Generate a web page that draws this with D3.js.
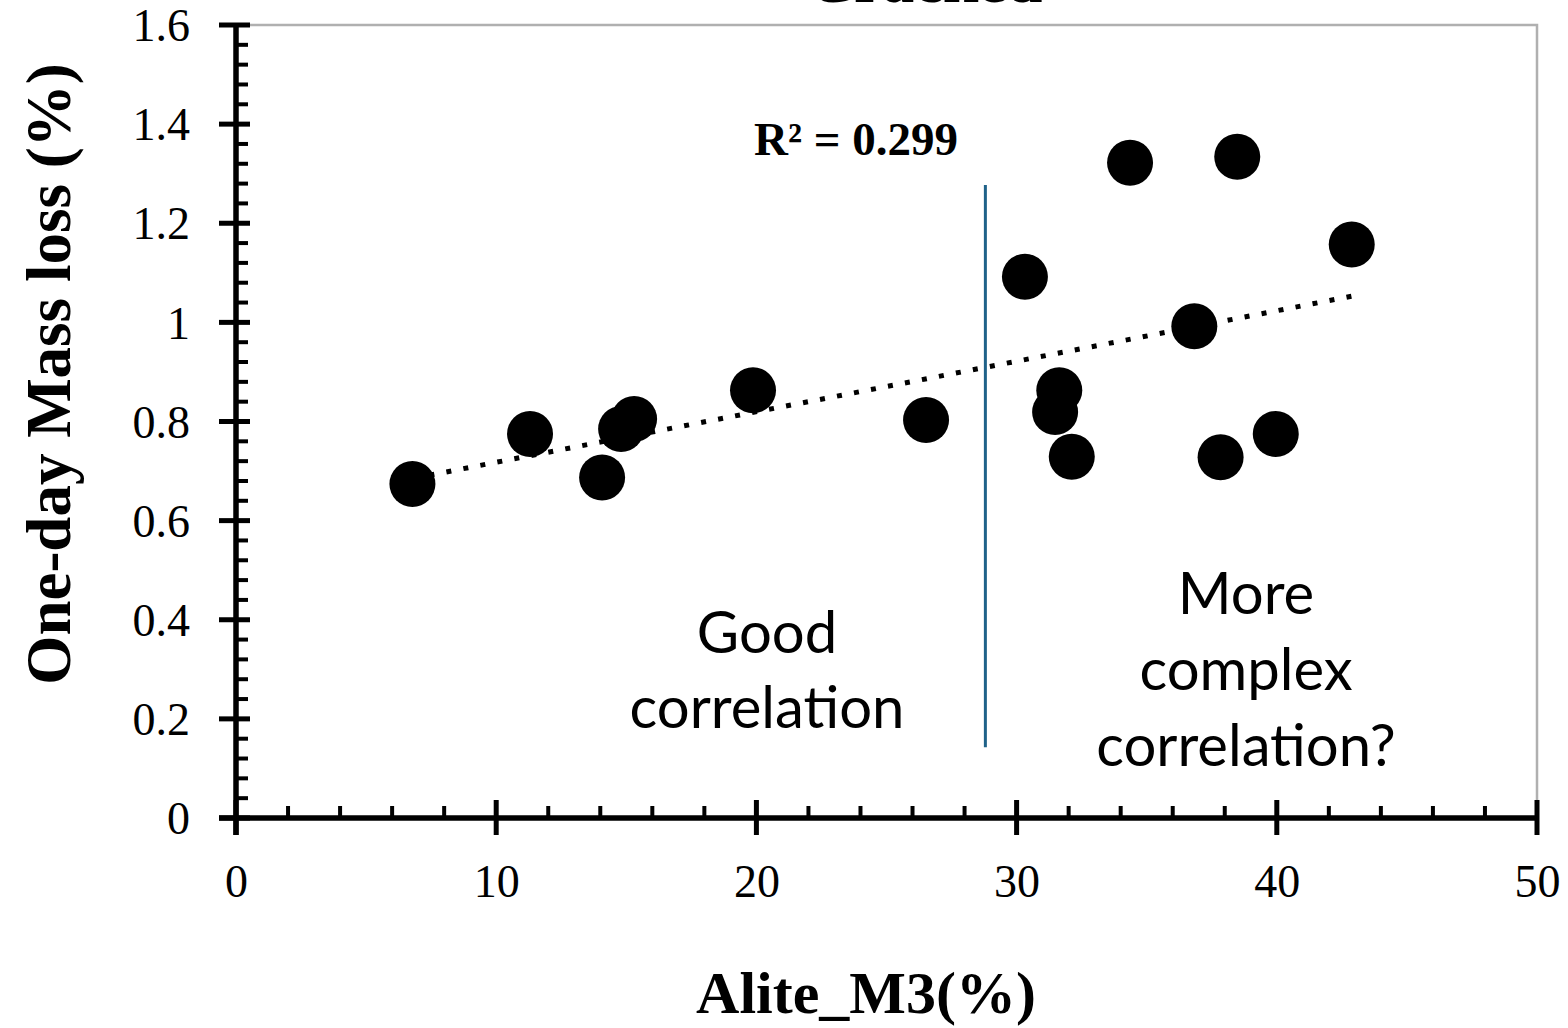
<!DOCTYPE html>
<html>
<head>
<meta charset="utf-8">
<script src="https://cdn.jsdelivr.net/npm/d3@7"></script>
<style>
  html, body { margin: 0; padding: 0; background: #fff; }
  svg { display: block; }
</style>
</head>
<body>
<svg id="chart" width="1568" height="1028"></svg>
<script>
// ---- data ----
const aliteM3 = [6.78, 11.3, 14.07, 14.8, 15.3, 19.87, 26.52, 30.32, 31.48, 31.64, 32.12, 34.36, 36.83, 37.84, 38.48, 39.96, 42.88];
const massLoss = [0.674, 0.775, 0.687, 0.785, 0.805, 0.863, 0.803, 1.092, 0.819, 0.863, 0.729, 1.322, 0.992, 0.728, 1.334, 0.775, 1.157];
const xTickValues = [0, 10, 20, 30, 40, 50];
const yTickValues = [0, 0.2, 0.4, 0.6, 0.8, 1.0, 1.2, 1.4, 1.6];
const yTickLabels = ["0", "0.2", "0.4", "0.6", "0.8", "1", "1.2", "1.4", "1.6"];
const xMinorStep = 2;
const yMinorStep = 0.04;
const dividerX = [28.8];
const dividerY = [0.143, 1.277];
const titleText = "Cracked";
const r2Label = "R\u00B2 = 0.299";
const xTitle = "Alite_M3(%)";
const yTitle = "One-day Mass loss (%)";
const leftNote = ["Good", "correlation"];
const rightNote = ["More", "complex", "correlation?"];

// ---- scales ----
const svg = d3.select("#chart");
const x = d3.scaleLinear().domain([0, 50]).range([236, 1537]);
const y = d3.scaleLinear().domain([0, 1.6]).range([818, 25]);
const serif = "'Liberation Serif', 'Times New Roman', serif";
const sans = "Lato, 'Open Sans', sans-serif";

// title (mostly cut off at the top, as in the original)
svg.append("text").attr("x", 925).attr("y", 1.5)
  .attr("text-anchor", "middle").attr("font-family", serif)
  .attr("font-weight", "bold").attr("font-size", 64).text(titleText);

// plot border (top & right)
svg.append("path")
  .attr("d", `M${x(0)},${y(1.6)}H${x(50)}V${y(0)}`)
  .attr("fill", "none").attr("stroke", "#b0b0b0").attr("stroke-width", 2.5);

// trendline (least squares)
const n = aliteM3.length;
const mx = d3.mean(aliteM3), my = d3.mean(massLoss);
let sxy = 0, sxx = 0;
for (let i = 0; i < n; i++) { sxy += (aliteM3[i]-mx)*(massLoss[i]-my); sxx += (aliteM3[i]-mx)**2; }
const slope = sxy / sxx, intercept = my - slope*mx;
const xr = d3.extent(aliteM3);
svg.append("line")
  .attr("x1", x(xr[0])).attr("y1", y(intercept + slope*xr[0]))
  .attr("x2", x(xr[1])).attr("y2", y(intercept + slope*xr[1]))
  .attr("stroke", "#000").attr("stroke-width", 5).attr("stroke-dasharray", "5 12.3");

// divider
svg.append("line")
  .attr("x1", x(dividerX[0])).attr("x2", x(dividerX[0]))
  .attr("y1", y(dividerY[0])).attr("y2", y(dividerY[1]))
  .attr("stroke", "#1f6289").attr("stroke-width", 3);

// points
svg.append("g").selectAll("circle").data(aliteM3).join("circle")
  .attr("cx", d => x(d)).attr("cy", (d, i) => y(massLoss[i])).attr("r", 23).attr("fill", "#000");

// axes
const ax = svg.append("g");
const xMinor = d3.range(0, 50 + 1e-9, xMinorStep).filter(v => Math.abs(v % 10) > 1e-6);
ax.selectAll(".xm").data(xMinor).join("line")
  .attr("x1", d => x(d)).attr("x2", d => x(d)).attr("y1", y(0)).attr("y2", y(0) - 12)
  .attr("stroke", "#000").attr("stroke-width", 4);
const yMinor = d3.range(0, 1.6 + 1e-9, yMinorStep).filter(v => Math.abs(Math.round(v/0.2)*0.2 - v) > 1e-6);
ax.selectAll(".ym").data(yMinor).join("line")
  .attr("y1", d => y(d)).attr("y2", d => y(d)).attr("x1", x(0)).attr("x2", x(0) + 12)
  .attr("stroke", "#000").attr("stroke-width", 4);
ax.selectAll(".xM").data(xTickValues).join("line")
  .attr("x1", d => x(d)).attr("x2", d => x(d)).attr("y1", y(0) - 18).attr("y2", y(0) + 17)
  .attr("stroke", "#000").attr("stroke-width", 5);
ax.selectAll(".yM").data(yTickValues).join("line")
  .attr("y1", d => y(d)).attr("y2", d => y(d)).attr("x1", x(0) - 17).attr("x2", x(0) + 14)
  .attr("stroke", "#000").attr("stroke-width", 5);
ax.append("line").attr("x1", x(0) - 17).attr("x2", x(50)).attr("y1", y(0)).attr("y2", y(0))
  .attr("stroke", "#000").attr("stroke-width", 5.5);
ax.append("line").attr("x1", x(0)).attr("x2", x(0)).attr("y1", y(1.6)).attr("y2", y(0) + 17)
  .attr("stroke", "#000").attr("stroke-width", 5.5);

// tick labels via d3 axes
const xAxis = d3.axisBottom(x).tickValues(xTickValues).tickSize(0).tickPadding(0).tickFormat(d3.format("d"));
const gx = svg.append("g").attr("transform", `translate(0,${y(0)})`).call(xAxis);
gx.select(".domain").remove();
gx.selectAll("text").attr("dy", null).attr("y", 79)
  .attr("font-family", serif).attr("font-size", 46).attr("fill", "#000");

const yAxis = d3.axisLeft(y).tickValues(yTickValues).tickSize(0).tickPadding(0)
  .tickFormat((d, i) => yTickLabels[i]);
const gy = svg.append("g").attr("transform", `translate(${x(0)},0)`).call(yAxis);
gy.select(".domain").remove();
gy.selectAll("text").attr("x", -46).attr("dy", "0.34em")
  .attr("font-family", serif).attr("font-size", 46).attr("fill", "#000");

// axis titles
svg.append("text").attr("x", 866).attr("y", 1013).attr("text-anchor", "middle")
  .attr("font-family", serif).attr("font-weight", "bold").attr("font-size", 60).text(xTitle);
svg.append("text").attr("transform", "translate(70,374) rotate(-90)").attr("text-anchor", "middle")
  .attr("font-family", serif).attr("font-weight", "bold").attr("font-size", 63).text(yTitle);

// R2 label
svg.append("text").attr("x", 856).attr("y", 155).attr("text-anchor", "middle")
  .attr("font-family", serif).attr("font-weight", "bold").attr("font-size", 47).text(r2Label);

// notes
const leftBase = [653, 728];
svg.append("g").selectAll("text").data(leftNote).join("text")
  .attr("x", 767).attr("y", (d, i) => leftBase[i]).attr("text-anchor", "middle")
  .attr("font-family", sans).attr("font-size", 58).text(d => d);
const rightBase = [614, 690, 766];
svg.append("g").selectAll("text").data(rightNote).join("text")
  .attr("x", 1246).attr("y", (d, i) => rightBase[i]).attr("text-anchor", "middle")
  .attr("font-family", sans).attr("font-size", 58).text(d => d);
</script>
</body>
</html>
